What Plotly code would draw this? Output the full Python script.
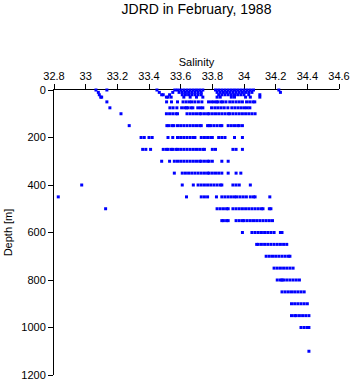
import plotly.graph_objects as go

# Salinity readings per sampling depth (m)
s_0000 = [33.065, 33.134, 33.45, 33.563, 33.58, 33.60, 33.62, 33.64, 33.66, 33.68, 33.70, 33.72, 33.74,
          33.82, 33.84, 33.86, 33.88, 33.90, 33.92, 33.94, 33.96, 33.98, 34.00, 34.02, 34.04, 34.06, 34.22]
s_0010 = [33.08, 33.465, 33.55, 33.59, 33.61, 33.63, 33.65, 33.67, 33.69, 33.71, 33.73,
          33.83, 33.85, 33.87, 33.89, 33.91, 33.93, 33.95, 33.97, 33.99, 34.01, 34.03, 34.05, 34.23]
s_0020 = [33.086, 33.48, 33.49, 33.53, 33.61, 33.63, 33.65, 33.67, 33.69, 33.71, 33.73,
          33.84, 33.86, 33.88, 33.90, 33.92, 33.94, 33.96, 33.98, 34.00, 34.03, 34.10]
s_0030 = [33.095, 33.101, 33.51, 33.52, 33.54, 33.62, 33.66, 33.70, 33.74, 33.83, 33.85, 33.92,
          33.94, 34.01, 34.04, 34.10]
s_0050 = [33.134, 33.511, 33.542, 33.58, 33.615, 33.635, 33.655, 33.67, 33.69, 33.712, 33.734, 33.776,
          33.795, 33.81, 33.826, 33.835, 33.855, 33.866, 33.886, 33.91, 33.929, 33.95, 33.97, 33.99,
          34.016, 34.036, 34.056, 34.068]
s_0075 = [33.153, 33.532, 33.552, 33.576, 33.606, 33.625, 33.637, 33.645, 33.665, 33.677, 33.708, 33.725,
          33.74, 33.795, 33.816, 33.835, 33.855, 33.875, 33.898, 33.923, 33.943, 33.963, 33.983, 34.003,
          34.02, 34.037]
s_0100 = [33.223, 33.51, 33.53, 33.55, 33.57, 33.58, 33.64, 33.66, 33.68, 33.70, 33.72, 33.73, 33.75,
          33.77, 33.78, 33.80, 33.82, 33.84, 33.86, 33.88, 33.90, 33.91, 33.93, 33.95, 33.97, 33.99,
          34.01, 34.03, 34.05, 34.07]
s_0150 = [33.275, 33.513, 33.525, 33.545, 33.557, 33.58, 33.60, 33.62, 33.64, 33.66, 33.68, 33.70, 33.72,
          33.73, 33.77, 33.78, 33.79, 33.81, 33.83, 33.85, 33.86, 33.90, 33.92, 33.94, 33.96, 33.97, 33.99]
s_0200 = [33.35, 33.37, 33.40, 33.42, 33.52, 33.55, 33.58, 33.60, 33.62, 33.64, 33.66, 33.68, 33.69,
          33.73, 33.75, 33.77, 33.79, 33.80, 33.84, 33.86, 33.88, 33.94, 33.99]
s_0250 = [33.36, 33.38, 33.41, 33.49, 33.51, 33.52, 33.54, 33.55, 33.57, 33.58, 33.60, 33.62, 33.64,
          33.66, 33.68, 33.70, 33.72, 33.74, 33.75, 33.80, 33.82, 33.93, 33.95, 33.99]
s_0300 = [33.48, 33.53, 33.56, 33.58, 33.60, 33.62, 33.64, 33.66, 33.68, 33.70, 33.72, 33.73, 33.75,
          33.77, 33.78, 33.80, 33.86, 33.90]
s_0350 = [33.56, 33.61, 33.63, 33.65, 33.67, 33.69, 33.71, 33.73, 33.75, 33.77, 33.78, 33.80, 33.82,
          33.84, 33.86, 33.90, 33.95, 33.98]
s_0400 = [32.975, 33.61, 33.68, 33.71, 33.73, 33.75, 33.77, 33.79, 33.81, 33.83, 33.85, 33.86, 33.93,
          33.95, 33.97, 34.04]
s_0450 = [32.827, 33.637, 33.73, 33.75, 33.77, 33.826, 33.86, 33.88, 33.90, 33.92, 33.94, 33.955, 33.975,
          33.995, 34.015, 34.04, 34.06, 34.07, 34.163]
s_0500 = [33.126, 33.83, 33.85, 33.87, 33.89, 33.90, 33.93, 33.95, 33.97, 33.99, 34.01, 34.03, 34.05,
          34.07, 34.09, 34.11, 34.12, 34.16, 34.17]
s_0550 = [33.86, 33.87, 33.89, 33.90, 33.95, 33.97, 33.99, 34.00, 34.02, 34.04, 34.06, 34.08, 34.10,
          34.12, 34.14, 34.16, 34.18]
s_0600 = [33.99, 34.05, 34.07, 34.09, 34.11, 34.13, 34.15, 34.17, 34.19, 34.23, 34.24]
s_0650 = [34.08, 34.09, 34.11, 34.13, 34.15, 34.17, 34.19, 34.21, 34.23, 34.25, 34.27]
s_0700 = [34.14, 34.16, 34.18, 34.20, 34.22, 34.24, 34.26, 34.28, 34.29]
s_0750 = [34.19, 34.21, 34.23, 34.25, 34.27, 34.29, 34.31]
s_0800 = [34.21, 34.23, 34.24, 34.25, 34.27, 34.29, 34.31, 34.33, 34.35]
s_0850 = [34.24, 34.26, 34.28, 34.30, 34.32, 34.34, 34.36, 34.38]
s_0900 = [34.30, 34.32, 34.34, 34.36, 34.38, 34.40]
s_0950 = [34.30, 34.32, 34.33, 34.35, 34.37, 34.39, 34.41]
s_1000 = [34.36, 34.38, 34.40, 34.41]
s_1100 = [34.41]

depth_levels = [0, 10, 20, 30, 50, 75, 100, 150, 200, 250, 300, 350, 400, 450, 500, 550,
                600, 650, 700, 750, 800, 850, 900, 950, 1000, 1100]
salinity_rows = [s_0000, s_0010, s_0020, s_0030, s_0050, s_0075, s_0100, s_0150, s_0200, s_0250,
                 s_0300, s_0350, s_0400, s_0450, s_0500, s_0550, s_0600, s_0650, s_0700, s_0750,
                 s_0800, s_0850, s_0900, s_0950, s_1000, s_1100]

x_ticks = [32.8, 33.0, 33.2, 33.4, 33.6, 33.8, 34.0, 34.2, 34.4, 34.6]
x_tick_text = ["32.8", "33", "33.2", "33.4", "33.6", "33.8", "34", "34.2", "34.4", "34.6"]
y_ticks = [0, 200, 400, 600, 800, 1000, 1200]

xs, ys = [], []
for d, row in zip(depth_levels, salinity_rows):
    xs.extend(row)
    ys.extend([d] * len(row))

FONT = "Liberation Sans, Arial, Helvetica, sans-serif"

fig = go.Figure(go.Scatter(
    x=xs, y=ys, mode="markers",
    marker=dict(symbol="square", size=3, color="#0000ff", line=dict(width=0)),
    cliponaxis=False, hoverinfo="x+y",
))

fig.update_layout(
    width=353, height=384,
    margin=dict(l=54, r=14, t=90, b=9, autoexpand=False),
    paper_bgcolor="white", plot_bgcolor="white",
    showlegend=False,
    font=dict(family=FONT, size=11, color="black"),
    title=dict(text="JDRD in February, 1988", x=0.5, xref="paper", xanchor="center",
               y=1 - 9 / 384, yref="container", yanchor="middle",
               font=dict(family=FONT, size=14, color="black")),
    xaxis=dict(side="top", range=[32.8, 34.6], tickmode="array", tickvals=x_ticks,
               ticktext=x_tick_text, ticks="outside", ticklen=5, tickwidth=1, tickcolor="black",
               showline=True, linecolor="black", linewidth=1, showgrid=False, zeroline=False,
               layer="below traces", automargin=False,
               title=dict(text="Salinity", standoff=0, font=dict(size=11))),
    yaxis=dict(range=[1200, 0], tickmode="array", tickvals=y_ticks, ticks="outside",
               ticklen=5, tickwidth=1, tickcolor="black", showline=True, linecolor="black",
               linewidth=1, showgrid=False, zeroline=False, layer="below traces", automargin=False,
               title=dict(text="Depth [m]", standoff=6, font=dict(size=11))),
)

fig.write_html("out.html")
